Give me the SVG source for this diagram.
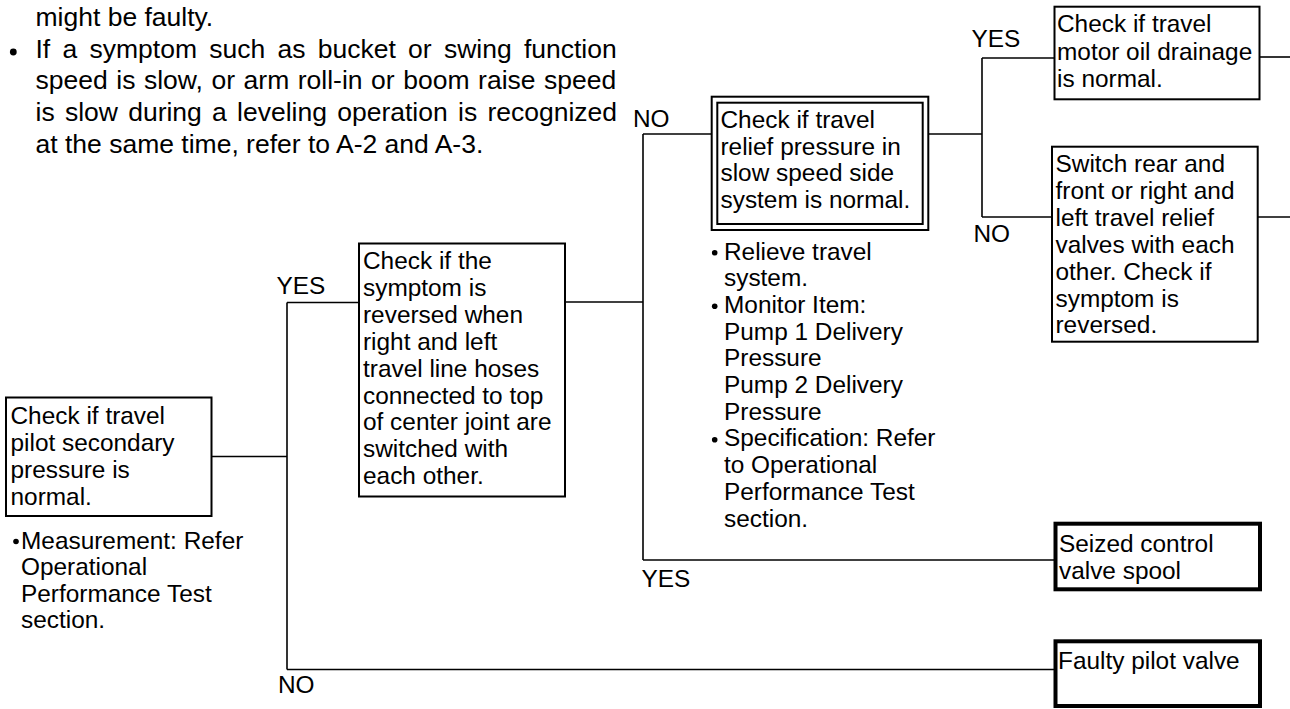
<svg xmlns="http://www.w3.org/2000/svg" width="1290" height="709" viewBox="0 0 1290 709">
  <style>
    .t { font-family: "Liberation Sans", Arial, sans-serif; font-size: 24.4px; fill: #000; }
    .para { font-family: "Liberation Sans", Arial, sans-serif; font-size: 26.5px; fill: #000; }
    .box { fill: #fff; stroke: #000; stroke-width: 2; }
    .term { fill: #fff; stroke: #000; stroke-width: 4; }
    .wire { fill: none; stroke: #000; stroke-width: 1.6; }
    .dot { fill: #000; }
  </style>

  <!-- introductory notes -->
  <g id="notes">
    <text class="para" x="35.5" y="26">might be faulty.</text>
    <circle class="dot" cx="13.3" cy="52" r="3.4"/>
    <text class="para" x="35.5" y="57.5" word-spacing="4.9">If a symptom such as bucket or swing function</text>
    <text class="para" x="35.5" y="89" word-spacing="1.2">speed is slow, or arm roll-in or boom raise speed</text>
    <text class="para" x="35.5" y="121" word-spacing="2.9">is slow during a leveling operation is recognized</text>
    <text class="para" x="35.5" y="153">at the same time, refer to A-2 and A-3.</text>
  </g>

  <!-- connectors -->
  <g id="connectors">
    <path class="wire" d="M212 456.5 H287"/>
    <path class="wire" d="M287 302.5 V669.5"/>
    <path class="wire" d="M287 302.5 H359"/>
    <path class="wire" d="M287 669.5 H1055"/>
    <path class="wire" d="M565 302 H643"/>
    <path class="wire" d="M643 134 V560"/>
    <path class="wire" d="M643 134 H711.7"/>
    <path class="wire" d="M643 560 H1055"/>
    <path class="wire" d="M928.3 134 H982"/>
    <path class="wire" d="M982 58 V217"/>
    <path class="wire" d="M982 58 H1054.5"/>
    <path class="wire" d="M982 217 H1052"/>
    <path class="wire" d="M1259.5 57 H1290"/>
    <path class="wire" d="M1257.7 217 H1290"/>
  </g>

  <!-- branch labels -->
  <g id="labels">
    <text class="t" x="276.5" y="294.3">YES</text>
    <text class="t" x="278" y="693.3">NO</text>
    <text class="t" x="633" y="126.7">NO</text>
    <text class="t" x="641.5" y="586.7">YES</text>
    <text class="t" x="971.5" y="46.7">YES</text>
    <text class="t" x="973.5" y="241.7">NO</text>
  </g>

  <g id="pilot-pressure">
    <rect class="box" x="6" y="397.5" width="205.5" height="118.5"/>
    <text class="t" x="10.5" y="423.5">Check if travel</text>
    <text class="t" x="10.5" y="450.5">pilot secondary</text>
    <text class="t" x="10.5" y="477.5">pressure is</text>
    <text class="t" x="10.5" y="504.5">normal.</text>
    <circle class="dot" cx="16" cy="541.5" r="2.8"/>
    <text class="t" x="21" y="548.5">Measurement: Refer</text>
    <text class="t" x="21" y="575">Operational</text>
    <text class="t" x="21" y="601.5">Performance Test</text>
    <text class="t" x="21" y="628">section.</text>
  </g>

  <g id="hose-swap">
    <rect class="box" x="359" y="243.5" width="206" height="253"/>
    <text class="t" x="363" y="269.3">Check if the</text>
    <text class="t" x="363" y="296.2">symptom is</text>
    <text class="t" x="363" y="323">reversed when</text>
    <text class="t" x="363" y="349.9">right and left</text>
    <text class="t" x="363" y="376.7">travel line hoses</text>
    <text class="t" x="363" y="403.6">connected to top</text>
    <text class="t" x="363" y="430.4">of center joint are</text>
    <text class="t" x="363" y="457.3">switched with</text>
    <text class="t" x="363" y="484.1">each other.</text>
  </g>

  <g id="relief-pressure">
    <rect class="box" x="711.7" y="96.7" width="216.6" height="133.3"/>
    <rect class="box" x="717.3" y="102.7" width="205.4" height="121.3"/>
    <text class="t" x="720.5" y="128">Check if travel</text>
    <text class="t" x="720.5" y="154.7">relief pressure in</text>
    <text class="t" x="720.5" y="181.4">slow speed side</text>
    <text class="t" x="720.5" y="208.1">system is normal.</text>
    <circle class="dot" cx="714.7" cy="252.8" r="2.8"/>
    <text class="t" x="724" y="259.5">Relieve travel</text>
    <text class="t" x="724" y="286.2">system.</text>
    <circle class="dot" cx="714.7" cy="306.2" r="2.8"/>
    <text class="t" x="724" y="312.9">Monitor Item:</text>
    <text class="t" x="724" y="339.6">Pump 1 Delivery</text>
    <text class="t" x="724" y="366.3">Pressure</text>
    <text class="t" x="724" y="393">Pump 2 Delivery</text>
    <text class="t" x="724" y="419.7">Pressure</text>
    <circle class="dot" cx="714.7" cy="439.7" r="2.8"/>
    <text class="t" x="724" y="446.4">Specification: Refer</text>
    <text class="t" x="724" y="473.1">to Operational</text>
    <text class="t" x="724" y="499.8">Performance Test</text>
    <text class="t" x="724" y="526.5">section.</text>
  </g>

  <g id="oil-drainage">
    <rect class="box" x="1054.5" y="6.7" width="205" height="92.6"/>
    <text class="t" x="1057" y="32">Check if travel</text>
    <text class="t" x="1057" y="59.5">motor oil drainage</text>
    <text class="t" x="1057" y="87">is normal.</text>
  </g>

  <g id="relief-valve-swap">
    <rect class="box" x="1052" y="146.7" width="205.7" height="195"/>
    <text class="t" x="1055.5" y="172">Switch rear and</text>
    <text class="t" x="1055.5" y="198.9">front or right and</text>
    <text class="t" x="1055.5" y="225.8">left travel relief</text>
    <text class="t" x="1055.5" y="252.7">valves with each</text>
    <text class="t" x="1055.5" y="279.6">other. Check if</text>
    <text class="t" x="1055.5" y="306.5">symptom is</text>
    <text class="t" x="1055.5" y="333.4">reversed.</text>
  </g>

  <g id="seized-spool">
    <rect class="term" x="1055.5" y="523.7" width="204.5" height="65.6"/>
    <text class="t" x="1059" y="551.7">Seized control</text>
    <text class="t" x="1059" y="579">valve spool</text>
  </g>

  <g id="faulty-pilot-valve">
    <rect class="term" x="1055.5" y="641.3" width="204.5" height="64.7"/>
    <text class="t" x="1058" y="669.3">Faulty pilot valve</text>
  </g>
</svg>
